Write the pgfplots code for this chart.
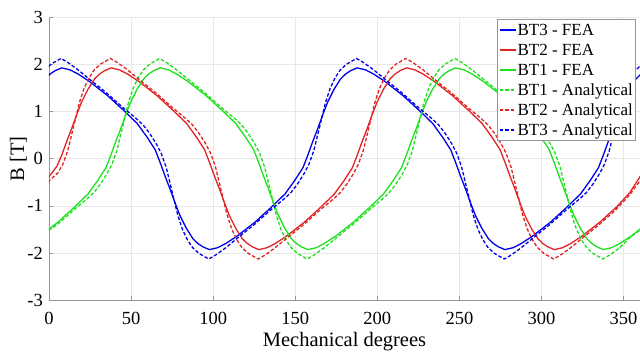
\documentclass[border=0pt]{standalone}
\usepackage{fontspec}
\setmainfont{Liberation Serif}
\usepackage{pgfplots}
\pgfplotsset{compat=1.18}
\definecolor{cB}{RGB}{0,0,235}
\definecolor{cR}{RGB}{225,35,35}
\definecolor{cG}{RGB}{30,225,30}
\definecolor{axgray}{RGB}{150,150,150}
\definecolor{gridgray}{RGB}{232,232,232}
\tikzset{sol/.style={line width=1.3pt, line join=round, solid},
         das/.style={line width=1.3pt, line join=round, dash pattern=on 3.5pt off 2pt}}
\begin{document}
\begin{tikzpicture}
\begin{axis}[
  scale only axis, width=591pt, height=282.5pt,
  xmin=0, xmax=360, ymin=-3, ymax=3,
  axis x line*=bottom, axis y line*=left,
  axis line style={axgray, line width=0.8pt},
  xtick={0,50,...,350}, xticklabels={0,50,100,150,200,250,300,350},
  ytick={-3,-2,...,3}, yticklabels={-3,-2,-1,0,1,2,3},
  tick align=inside, major tick length=4pt,
  tick style={axgray, line width=0.6pt},
  grid=major, major grid style={gridgray, line width=0.6pt},
  xticklabel style={font=\fontsize{18.5}{20}\selectfont\rmfamily, anchor=base, inner sep=0pt, yshift=-25pt},
  yticklabel style={font=\fontsize{18.5}{20}\selectfont\rmfamily, anchor=east, inner sep=0pt, xshift=-6pt},
  xlabel={Mechanical degrees},
  xlabel style={font=\fontsize{20.5}{24}\selectfont, at={(axis description cs:0.5,0)}, anchor=base, yshift=-47pt},
  ylabel={B [T]},
  ylabel style={font=\fontsize{20.5}{24}\selectfont, at={(axis description cs:-0.0423,0.5)}, anchor=base},
  legend image code/.code={\draw[#1] (0pt,0pt) -- (16pt,0pt);},
  legend style={at={(axis description cs:0.9915,0.9936)}, anchor=north east,
    draw=axgray, fill=white, inner xsep=2pt, inner ysep=0.5pt,
    row sep=0pt, column sep=1pt, font=\fontsize{17}{20}\selectfont,
    nodes={inner sep=0pt, text height=15.6pt, text depth=4.4pt}},
  legend cell align=left,
]
% BT3 - FEA
\addplot[cB, sol] coordinates {(-6.3,1.48) (-2.3,1.70) (0.7,1.80) (3.7,1.87) (7.7,1.93) (12.7,1.89) (17.7,1.80) (24.7,1.64) (35.7,1.34) (45.7,1.02) (53.7,0.75) (59.7,0.46) (64.7,0.19) (67.7,-0.08) (70.7,-0.37) (73.7,-0.64) (76.7,-0.93) (79.7,-1.20) (83.7,-1.48) (87.7,-1.70) (90.7,-1.80) (93.7,-1.87) (97.7,-1.93) (102.7,-1.89) (107.7,-1.80) (114.7,-1.64) (125.7,-1.34) (135.7,-1.02) (143.7,-0.75) (149.7,-0.46) (154.7,-0.19) (157.7,0.08) (160.7,0.37) (163.7,0.64) (166.7,0.93) (169.7,1.20) (173.7,1.48) (177.7,1.70) (180.7,1.80) (183.7,1.87) (187.7,1.93) (192.7,1.89) (197.7,1.80) (204.7,1.64) (215.7,1.34) (225.7,1.02) (233.7,0.75) (239.7,0.46) (244.7,0.19) (247.7,-0.08) (250.7,-0.37) (253.7,-0.64) (256.7,-0.93) (259.7,-1.20) (263.7,-1.48) (267.7,-1.70) (270.7,-1.80) (273.7,-1.87) (277.7,-1.93) (282.7,-1.89) (287.7,-1.80) (294.7,-1.64) (305.7,-1.34) (315.7,-1.02) (323.7,-0.75) (329.7,-0.46) (334.7,-0.19) (337.7,0.08) (340.7,0.37) (343.7,0.64) (346.7,0.93) (349.7,1.20) (353.7,1.48) (357.7,1.70) (360.7,1.80) (363.7,1.87)};
\addlegendentry{BT3 - FEA}
% BT2 - FEA
\addplot[cR, sol] coordinates {(-6.2,-0.72) (0,-0.38) (4.8,-0.16) (7.8,0.08) (10.8,0.37) (13.8,0.64) (16.8,0.93) (19.8,1.20) (23.8,1.48) (27.8,1.70) (30.8,1.80) (33.8,1.87) (37.8,1.93) (42.8,1.89) (47.8,1.80) (54.8,1.64) (65.8,1.34) (75.8,1.02) (83.8,0.75) (89.8,0.46) (94.8,0.19) (97.8,-0.08) (100.8,-0.37) (103.8,-0.64) (106.8,-0.93) (109.8,-1.20) (113.8,-1.48) (117.8,-1.70) (120.8,-1.80) (123.8,-1.87) (127.8,-1.93) (132.8,-1.89) (137.8,-1.80) (144.8,-1.64) (155.8,-1.34) (165.8,-1.02) (173.8,-0.75) (179.8,-0.46) (184.8,-0.19) (187.8,0.08) (190.8,0.37) (193.8,0.64) (196.8,0.93) (199.8,1.20) (203.8,1.48) (207.8,1.70) (210.8,1.80) (213.8,1.87) (217.8,1.93) (222.8,1.89) (227.8,1.80) (234.8,1.64) (245.8,1.34) (255.8,1.02) (263.8,0.75) (269.8,0.46) (274.8,0.19) (277.8,-0.08) (280.8,-0.37) (283.8,-0.64) (286.8,-0.93) (289.8,-1.20) (293.8,-1.48) (297.8,-1.70) (300.8,-1.80) (303.8,-1.87) (307.8,-1.93) (312.8,-1.89) (317.8,-1.80) (324.8,-1.64) (335.8,-1.34) (345.8,-1.02) (353.8,-0.72) (360,-0.38) (364.8,-0.16)};
\addlegendentry{BT2 - FEA}
% BT1 - FEA
\addplot[cG, sol] coordinates {(-5.3,-1.64) (5.7,-1.34) (15.7,-1.02) (23.7,-0.75) (29.7,-0.46) (34.7,-0.19) (37.7,0.08) (40.7,0.37) (43.7,0.64) (46.7,0.93) (49.7,1.20) (53.7,1.48) (57.7,1.70) (60.7,1.80) (63.7,1.87) (67.7,1.93) (72.7,1.89) (77.7,1.80) (84.7,1.64) (95.7,1.34) (105.7,1.02) (113.7,0.75) (119.7,0.46) (124.7,0.19) (127.7,-0.08) (130.7,-0.37) (133.7,-0.64) (136.7,-0.93) (139.7,-1.20) (143.7,-1.48) (147.7,-1.70) (150.7,-1.80) (153.7,-1.87) (157.7,-1.93) (162.7,-1.89) (167.7,-1.80) (174.7,-1.64) (185.7,-1.34) (195.7,-1.02) (203.7,-0.75) (209.7,-0.46) (214.7,-0.19) (217.7,0.08) (220.7,0.37) (223.7,0.64) (226.7,0.93) (229.7,1.20) (233.7,1.48) (237.7,1.70) (240.7,1.80) (243.7,1.87) (247.7,1.93) (252.7,1.89) (257.7,1.80) (264.7,1.64) (275.7,1.34) (285.7,1.02) (293.7,0.75) (299.7,0.46) (304.7,0.19) (307.7,-0.08) (310.7,-0.37) (313.7,-0.64) (316.7,-0.93) (319.7,-1.20) (323.7,-1.48) (327.7,-1.70) (330.7,-1.80) (333.7,-1.87) (337.7,-1.93) (342.7,-1.89) (347.7,-1.80) (354.7,-1.64) (365.7,-1.34)};
\addlegendentry{BT1 - FEA}
% BT1 - Analytical
\addplot[cG, das] coordinates {(-5.7,-1.66) (5.3,-1.39) (15.3,-1.08) (23.3,-0.85) (27.3,-0.72) (31.3,-0.54) (35.3,-0.32) (38.3,-0.12) (41.3,0.17) (44.3,0.60) (48.3,1.18) (51.3,1.50) (54.3,1.72) (57.3,1.88) (61.3,2.01) (67.3,2.13) (71.3,2.05) (77.3,1.90) (84.3,1.70) (95.3,1.39) (105.3,1.08) (113.3,0.85) (117.3,0.72) (121.3,0.54) (125.3,0.32) (128.3,0.12) (131.3,-0.17) (134.3,-0.60) (138.3,-1.18) (141.3,-1.50) (144.3,-1.72) (147.3,-1.88) (151.3,-2.01) (157.3,-2.13) (161.3,-2.05) (167.3,-1.90) (174.3,-1.70) (185.3,-1.39) (195.3,-1.08) (203.3,-0.85) (207.3,-0.72) (211.3,-0.54) (215.3,-0.32) (218.3,-0.12) (221.3,0.17) (224.3,0.60) (228.3,1.18) (231.3,1.50) (234.3,1.72) (237.3,1.88) (241.3,2.01) (247.3,2.13) (251.3,2.05) (257.3,1.90) (264.3,1.70) (275.3,1.39) (285.3,1.08) (293.3,0.85) (297.3,0.72) (301.3,0.54) (305.3,0.32) (308.3,0.12) (311.3,-0.17) (314.3,-0.60) (318.3,-1.18) (321.3,-1.50) (324.3,-1.72) (327.3,-1.88) (331.3,-2.01) (337.3,-2.13) (341.3,-2.05) (347.3,-1.90) (354.3,-1.66) (365.3,-1.39)};
\addlegendentry{BT1 - Analytical}
% BT2 - Analytical
\addplot[cR, das] coordinates {(-6.6,-0.78) (0,-0.47) (5.4,-0.30) (8.4,-0.12) (11.4,0.17) (14.4,0.60) (18.4,1.18) (21.4,1.50) (24.4,1.72) (27.4,1.88) (31.4,2.01) (37.4,2.13) (41.4,2.05) (47.4,1.90) (54.4,1.70) (65.4,1.39) (75.4,1.08) (83.4,0.85) (87.4,0.72) (91.4,0.54) (95.4,0.32) (98.4,0.12) (101.4,-0.17) (104.4,-0.60) (108.4,-1.18) (111.4,-1.50) (114.4,-1.72) (117.4,-1.88) (121.4,-2.01) (127.4,-2.13) (131.4,-2.05) (137.4,-1.90) (144.4,-1.70) (155.4,-1.39) (165.4,-1.08) (173.4,-0.85) (177.4,-0.72) (181.4,-0.54) (185.4,-0.32) (188.4,-0.12) (191.4,0.17) (194.4,0.60) (198.4,1.18) (201.4,1.50) (204.4,1.72) (207.4,1.88) (211.4,2.01) (217.4,2.13) (221.4,2.05) (227.4,1.90) (234.4,1.70) (245.4,1.39) (255.4,1.08) (263.4,0.85) (267.4,0.72) (271.4,0.54) (275.4,0.32) (278.4,0.12) (281.4,-0.17) (284.4,-0.60) (288.4,-1.18) (291.4,-1.50) (294.4,-1.72) (297.4,-1.88) (301.4,-2.01) (307.4,-2.13) (311.4,-2.05) (317.4,-1.90) (324.4,-1.70) (335.4,-1.39) (345.4,-1.08) (353.4,-0.78) (360,-0.47) (365.4,-0.30)};
\addlegendentry{BT2 - Analytical}
% BT3 - Analytical
\addplot[cB, das] coordinates {(-2.7,1.88) (1.3,2.01) (7.3,2.13) (11.3,2.05) (17.3,1.90) (24.3,1.70) (35.3,1.39) (45.3,1.08) (53.3,0.85) (57.3,0.72) (61.3,0.54) (65.3,0.32) (68.3,0.12) (71.3,-0.17) (74.3,-0.60) (78.3,-1.18) (81.3,-1.50) (84.3,-1.72) (87.3,-1.88) (91.3,-2.01) (97.3,-2.13) (101.3,-2.05) (107.3,-1.90) (114.3,-1.70) (125.3,-1.39) (135.3,-1.08) (143.3,-0.85) (147.3,-0.72) (151.3,-0.54) (155.3,-0.32) (158.3,-0.12) (161.3,0.17) (164.3,0.60) (168.3,1.18) (171.3,1.50) (174.3,1.72) (177.3,1.88) (181.3,2.01) (187.3,2.13) (191.3,2.05) (197.3,1.90) (204.3,1.70) (215.3,1.39) (225.3,1.08) (233.3,0.85) (237.3,0.72) (241.3,0.54) (245.3,0.32) (248.3,0.12) (251.3,-0.17) (254.3,-0.60) (258.3,-1.18) (261.3,-1.50) (264.3,-1.72) (267.3,-1.88) (271.3,-2.01) (277.3,-2.13) (281.3,-2.05) (287.3,-1.90) (294.3,-1.70) (305.3,-1.39) (315.3,-1.08) (323.3,-0.85) (327.3,-0.72) (331.3,-0.54) (335.3,-0.32) (338.3,-0.12) (341.3,0.17) (344.3,0.60) (348.3,1.18) (351.3,1.50) (354.3,1.72) (357.3,1.88) (361.3,2.01)};
\addlegendentry{BT3 - Analytical}
\end{axis}
\pgfresetboundingbox
\path (-49pt,-53pt) rectangle (591pt,300pt);
\end{tikzpicture}
\end{document}
